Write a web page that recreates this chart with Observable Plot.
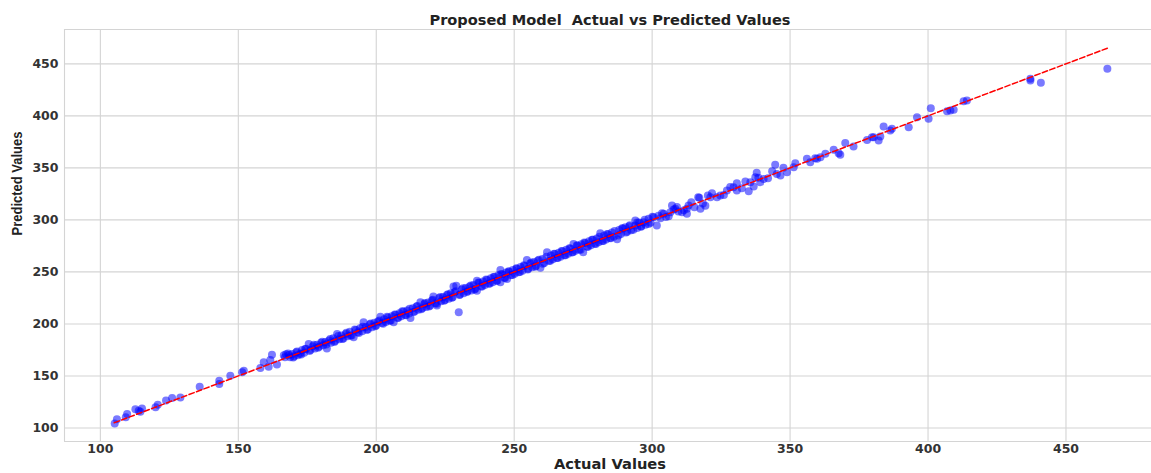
<!DOCTYPE html>
<html>
<head>
<meta charset="utf-8">
<script src="https://cdn.jsdelivr.net/npm/d3@7"></script>
<script src="https://cdn.jsdelivr.net/npm/@observablehq/plot@0.6"></script>
<style>
  html, body { margin: 0; padding: 0; background: #fff; }
  #chart { width: 1151px; height: 473px; }
</style>
</head>
<body>
<div id="chart"></div>
<script>
const titleText = "Proposed Model  Actual vs Predicted Values";
const xLabelText = "Actual Values";
const yLabelText = "Predicted Values";
const xTicks = [100, 150, 200, 250, 300, 350, 400, 450];
const yTicks = [100, 150, 200, 250, 300, 350, 400, 450];
const xDomain = [87, 481];
const yDomain = [87, 483];
const idealLine = [105, 465];

const actual = [
  105.2, 106.0, 109.2, 109.7, 112.7, 113.9, 114.5, 115.1, 120.0, 120.8, 123.8, 126.0, 129.0, 136.0, 143.1, 143.1,
  147.1, 151.4, 152.0, 158.0, 159.2, 161.0, 162.2, 161.6, 164.0,
  166.5, 167.3, 168.0, 168.8, 169.5, 170.2, 171.0, 171.6, 172.4, 173.1, 173.9, 174.6, 175.5, 176.2, 177.0, 177.8,
  178.5, 179.3, 180.0, 180.8, 181.5, 182.1, 182.9, 183.6, 184.4, 185.1, 185.8, 186.6, 187.3, 188.1, 188.9, 189.6,
  190.4, 191.1, 191.8, 192.6, 193.3, 194.1, 194.9, 195.4, 196.2, 197.0, 197.7, 198.5, 199.3,
  200.0, 200.6, 201.5, 202.1, 202.8, 203.5, 204.2, 204.9, 205.6, 206.3, 207.0, 207.7, 208.4, 209.1, 209.8, 210.5,
  211.2, 211.9, 212.4, 213.2, 213.9, 214.6, 215.3, 216.0, 216.7, 217.4, 218.1, 218.8, 219.5, 220.2, 220.7, 221.4,
  222.0, 222.8, 223.5, 224.2, 224.9, 225.6, 226.3, 227.0, 227.7, 228.0, 228.4, 229.0, 229.9, 230.3, 231.0, 231.7,
  232.4, 233.1, 233.8, 234.5, 235.2, 235.9, 236.5, 236.5, 237.3, 238.0, 238.7, 239.4, 240.1, 240.8, 241.5, 242.2,
  242.9, 243.6, 244.3, 245.0, 245.0, 245.7, 246.4, 247.1, 247.4, 248.1, 248.8, 249.5,
  250.2, 250.9, 251.6, 252.3, 253.0, 253.7, 254.6, 255.1, 255.8, 256.5, 257.2, 257.9, 258.6, 259.5, 260.2, 260.9,
  261.9, 262.6, 263.3, 264.0, 264.7, 265.4, 266.1, 266.8, 267.5, 268.2, 268.9, 269.6, 270.3, 271.0, 271.5, 272.2,
  272.9, 273.6, 274.3, 275.0, 275.7, 276.4, 277.1, 277.8, 278.5, 279.2, 279.9, 280.6, 281.2, 281.9, 282.6, 283.3,
  284.0, 284.7, 285.4, 286.1, 287.3, 288.0, 288.7, 289.4, 290.3, 291.0, 291.7, 292.4, 293.9, 293.9, 294.6, 295.3,
  296.0, 296.9, 297.6, 298.7, 299.4,
  300.5, 301.7, 302.3, 303.0, 304.2, 305.0, 306.6, 307.2, 307.8, 308.4, 309.5, 310.8, 312.6, 312.6, 313.2, 315.3,
  316.7, 317.1, 317.5, 319.3, 321.1, 321.7, 323.5, 324.7, 327.1, 329.5, 330.7, 330.7, 335.0, 335.6, 336.8, 337.4,
  337.9, 339.2, 340.4, 344.6, 345.2, 346.5, 347.6, 348.9, 351.3, 351.9, 356.1, 357.3, 359.1, 359.8, 361.0, 362.8,
  365.8, 367.6, 368.2, 370.0, 373.0, 377.9, 379.7, 380.3, 382.1, 382.7, 383.9, 386.3, 386.9, 393.0, 396.0, 400.2,
  401.0, 406.9, 408.1, 409.3, 412.9, 414.1, 437.1, 437.1, 440.9, 465.0,
  166.9, 168.4, 169.9, 171.3, 172.8, 174.2, 175.8, 177.4, 178.9, 180.4, 181.9, 183.3, 184.8, 186.2, 187.7, 189.2,
  190.7, 192.2, 193.7, 195.1, 196.6, 198.0, 199.6, 201.1, 202.5, 203.9, 205.3, 206.7, 208.0, 209.4, 210.8, 212.1,
  213.5, 214.9, 216.3, 217.7, 219.1, 220.5, 221.9, 223.2, 224.6, 226.0, 227.4, 228.8, 230.2, 231.5, 232.9, 234.3,
  235.6, 237.0, 238.4, 239.8, 241.2, 242.5, 243.9, 245.3, 246.7, 248.0, 249.4, 250.8, 252.1, 253.5, 254.9, 256.2,
  257.6, 259.0, 260.4, 261.7, 263.1, 264.5, 265.8, 267.2, 268.6, 270.0, 271.3, 272.7, 274.1, 275.4, 276.8, 278.2,
  279.6, 280.9, 282.3, 283.7, 285.0, 286.4, 287.8, 289.1, 290.5, 291.9, 293.2, 294.6, 296.0, 297.3, 298.7, 300.1,
  303.6, 306.0, 309.0, 311.5, 314.2, 318.4, 320.2, 326.0, 328.3, 332.5, 333.8, 338.5, 342.0, 343.5
];

const predicted = [
  104.4, 108.3, 110.2, 113.5, 117.9, 116.6, 115.7, 118.6, 119.8, 122.4, 126.3, 128.8, 129.4, 139.7, 142.3, 145.5,
  150.3, 153.5, 155.1, 157.7, 163.1, 158.9, 170.5, 165.4, 160.9,
  169.8, 170.9, 171.5, 167.9, 171.0, 168.6, 172.8, 169.9, 171.3, 175.0, 172.2, 176.1, 180.8, 174.9, 178.6, 176.4,
  180.1, 178.0, 181.9, 179.4, 182.6, 176.5, 184.0, 181.8, 186.2, 183.7, 190.4, 185.2, 188.9, 186.0, 190.3, 188.2,
  192.5, 189.0, 187.1, 194.2, 191.9, 195.8, 193.0, 201.5, 197.1, 194.8, 199.6, 196.9, 201.2,
  198.4, 202.3, 207.0, 200.8, 204.6, 201.9, 206.3, 203.1, 207.4, 201.5, 208.8, 205.6, 210.2, 207.3, 211.9, 208.7,
  213.0, 210.1, 205.8, 215.1, 212.0, 216.7, 213.6, 220.8, 215.0, 219.2, 216.3, 220.6, 217.4, 222.5, 226.3, 219.8,
  217.6, 224.9, 221.7, 226.0, 223.1, 227.8, 224.2, 229.4, 225.6, 235.9, 230.5, 236.8, 211.2, 228.2, 233.1, 229.6,
  234.5, 231.3, 236.0, 232.2, 237.4, 233.8, 241.5, 232.0, 239.6, 236.1, 240.9, 237.5, 242.3, 238.6, 244.0, 240.1,
  245.3, 241.4, 246.8, 251.9, 240.0, 247.6, 244.3, 249.5, 243.3, 250.2, 246.9, 251.8,
  248.3, 253.0, 249.7, 254.8, 251.1, 255.6, 261.5, 253.0, 258.1, 254.4, 259.6, 255.7, 260.9, 254.0, 262.5, 258.6,
  268.8, 260.4, 265.7, 262.1, 267.2, 263.3, 268.5, 264.5, 269.9, 266.1, 271.3, 267.4, 272.6, 268.7, 276.9, 270.3,
  275.1, 271.2, 276.5, 268.8, 277.9, 274.3, 279.4, 275.6, 280.8, 277.0, 282.1, 278.4, 287.1, 279.8, 284.9, 281.1,
  286.3, 282.5, 287.8, 283.9, 281.5, 290.2, 286.5, 291.8, 292.9, 288.6, 294.0, 290.1, 299.3, 294.5, 292.3, 297.5,
  293.8, 297.7, 295.4, 301.0, 297.2,
  302.5, 294.5, 304.1, 301.5, 305.8, 302.9, 307.3, 313.8, 310.0, 310.6, 308.0, 307.3, 310.6, 305.8, 313.8, 312.1,
  321.7, 321.2, 310.6, 313.5, 321.7, 325.6, 321.7, 323.4, 328.2, 331.3, 335.2, 328.2, 327.5, 336.2, 332.0, 341.0,
  345.2, 336.2, 339.4, 352.9, 344.2, 342.6, 350.0, 345.8, 350.6, 354.4, 358.7, 355.4, 359.2, 358.7, 360.2, 363.5,
  367.3, 364.0, 362.5, 374.0, 370.5, 376.9, 379.4, 379.4, 376.3, 380.1, 389.7, 385.9, 387.5, 389.0, 398.7, 397.1,
  407.3, 404.4, 405.1, 405.8, 414.0, 414.7, 435.6, 434.0, 431.7, 445.2,
  168.0, 170.2, 167.7, 173.4, 170.6, 176.0, 174.1, 179.9, 177.2, 182.8, 180.3, 185.5, 182.6, 188.3, 185.4, 191.6,
  188.9, 194.6, 191.4, 197.3, 194.2, 200.5, 197.8, 203.4, 200.2, 206.8, 203.2, 209.0, 205.9, 212.1, 208.3, 214.6,
  211.4, 217.3, 214.1, 220.2, 216.8, 223.3, 219.4, 225.9, 222.3, 228.6, 225.1, 231.5, 227.9, 234.2, 230.6, 237.0,
  233.2, 239.8, 235.9, 242.6, 238.8, 245.1, 241.5, 248.0, 244.1, 250.7, 247.0, 253.5, 249.8, 256.4, 252.3, 259.0,
  255.0, 261.8, 257.9, 264.6, 260.7, 267.4, 263.3, 270.1, 265.9, 272.8, 268.8, 275.6, 271.4, 278.3, 274.2, 281.0,
  276.9, 283.9, 279.7, 286.5, 282.4, 289.3, 285.1, 292.0, 287.8, 294.9, 290.5, 297.6, 293.4, 300.2, 296.0, 303.1,
  306.5, 303.5, 312.3, 309.2, 317.0, 315.8, 323.5, 324.0, 331.5, 330.4, 337.0, 340.5, 340.1, 346.8
];

const points = actual.map((a, i) => ({actual: a, predicted: predicted[i]}));
const linePts = idealLine.map(v => ({actual: v, predicted: v}));

const chart = Plot.plot({
  width: 1151,
  height: 473,
  marginLeft: 64,
  marginRight: 0,
  marginTop: 29,
  marginBottom: 32,
  style: {fontFamily: "DejaVu Sans", fontSize: "12px", fontWeight: "bold", color: "#333", background: "#fff", overflow: "visible"},
  x: {domain: xDomain},
  y: {domain: yDomain},
  marks: [
    Plot.gridX(xTicks, {stroke: "#d4d4d4", strokeOpacity: 1, strokeWidth: 1.1}),
    Plot.gridY(yTicks, {stroke: "#d4d4d4", strokeOpacity: 1, strokeWidth: 1.1}),
    Plot.ruleX([xDomain[0]], {stroke: "#d4d4d4", strokeWidth: 1.1}),
    Plot.ruleY(yDomain, {stroke: "#d4d4d4", strokeWidth: 1.1}),
    Plot.axisX(xTicks, {tickSize: 0, tickPadding: 3, label: null, fontSize: 12.5, fontWeight: "bold", fill: "#333"}),
    Plot.axisY(yTicks, {tickSize: 0, tickPadding: 6, label: null, fontSize: 12.5, fontWeight: "bold", fill: "#333"}),
    Plot.dot(points, {x: "actual", y: "predicted", r: 4, fill: "blue", fillOpacity: 0.52, stroke: "none"}),
    Plot.line(linePts, {x: "actual", y: "predicted", stroke: "red", strokeWidth: 1.5, strokeDasharray: "5.5,2.5"}),
    Plot.text([titleText], {text: d => d, frameAnchor: "top", dy: -9, dx: 2, lineAnchor: "middle", fontSize: 14.5, fontWeight: "bold", fill: "#222", className: "ttl"}),
    Plot.text([xLabelText], {text: d => d, frameAnchor: "bottom", dy: 23, dx: 2, lineAnchor: "middle", fontSize: 14.5, fontWeight: "bold", fill: "#222", className: "xlab"}),
    Plot.text([yLabelText], {text: d => d, frameAnchor: "left", dx: -46.5, rotate: -90, lineAnchor: "middle", fontSize: 14, fontWeight: "bold", fontFamily: "Liberation Sans", fill: "#222", className: "ylab"})
  ]
});
document.getElementById("chart").appendChild(chart);

function fit(cls, len) {
  chart.querySelectorAll("." + cls + " text").forEach(t => {
    t.setAttribute("textLength", len);
    t.setAttribute("lengthAdjust", "spacingAndGlyphs");
  });
}
fit("ttl", 361);
fit("xlab", 112);
fit("ylab", 104);
</script>
</body>
</html>
